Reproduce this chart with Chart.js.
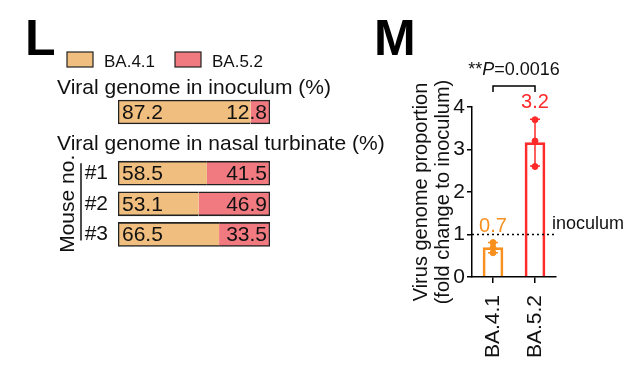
<!DOCTYPE html>
<html>
<head>
<meta charset="utf-8">
<script src="https://cdn.jsdelivr.net/npm/chart.js@4"></script>
<style>
  body { margin: 0; background: #fff; }
  #wrap { position: relative; width: 637px; height: 373px; overflow: hidden; }
  canvas { position: absolute; top: 0; }
  #chartL { left: 0; z-index: 1; }
  #chartM { left: 370px; z-index: 2; }
</style>
</head>
<body>
<div id="wrap">
  <canvas id="chartL" width="410" height="373"></canvas>
  <canvas id="chartM" width="267" height="373"></canvas>
</div>
<script>
// panel L - proportions (%)
const rows = ['Inoculum', '#1', '#2', '#3'];
const ba41Share = [87.2, 58.5, 53.1, 66.5];
const ba52Share = [12.8, 41.5, 46.9, 33.5];

// panel M - fold change to inoculum
const strains = ['BA.4.1', 'BA.5.2'];
const foldMean = [0.69, 3.16];
const foldSd = [0.12, 0.55];
const ba41Points = [0.81, 0.57, 0.69];
const ba52Points = [3.7, 3.2, 2.6];
const inoculumLevel = 1;
const pValue = '0.0016';

const FONT = '"Liberation Sans", Arial, sans-serif';
const INK = '#111';
const LIGHT_ORANGE = '#F0BE7E';
const PINK = '#F17A80';
const ORANGE = '#F7901E';
const RED = '#FF2A2A';

Chart.defaults.font.family = FONT;
Chart.defaults.color = INK;

// panel L: an empty row sits between inoculum and mice to hold the second title
const rowLabels = [rows[0], 'gap'].concat(rows.slice(1));
const withGap = arr => [arr[0], null].concat(arr.slice(1));

const panelL = {
  id: 'panelL',
  afterDraw(chart) {
    const ctx = chart.ctx;
    const y = chart.scales.y;
    const x = chart.scales.x;
    ctx.save();
    ctx.fillStyle = '#000';
    ctx.font = 'bold 50px ' + FONT;
    ctx.textBaseline = 'alphabetic';
    ctx.fillText('L', 25, 55);

    // legend
    ctx.font = '17px ' + FONT;
    let lx = 67;
    chart.data.datasets.forEach(ds => {
      ctx.fillStyle = ds.backgroundColor;
      ctx.fillRect(lx, 52, 26, 15);
      ctx.strokeStyle = '#222';
      ctx.lineWidth = 1.2;
      ctx.strokeRect(lx, 52, 26, 15);
      ctx.fillStyle = INK;
      ctx.fillText(ds.label, lx + 37, 67);
      lx += 108;
    });

    // titles
    ctx.font = '21px ' + FONT;
    ctx.fillText('Viral genome in inoculum (%)', 57, y.getPixelForValue(0) - 18);
    ctx.fillText('Viral genome in nasal turbinate (%)', 57, y.getPixelForValue(1) + 7);

    // values inside bars
    const left = x.getPixelForValue(0);
    const right = x.getPixelForValue(100);
    const a = chart.data.datasets[0].data;
    const b = chart.data.datasets[1].data;
    ctx.textBaseline = 'middle';
    a.forEach((v, i) => {
      if (v === null) return;
      const yy = y.getPixelForValue(i) + 1;
      ctx.textAlign = 'left';
      ctx.fillText(v.toFixed(1), left + 4, yy);
      ctx.textAlign = 'right';
      ctx.fillText(b[i].toFixed(1), right - 3, yy);
    });

    // Mouse no. bracket
    const y1 = y.getPixelForValue(2);
    const y3 = y.getPixelForValue(4);
    ctx.strokeStyle = INK;
    ctx.lineWidth = 1.5;
    ctx.beginPath();
    ctx.moveTo(left - 37, y1 - 10);
    ctx.lineTo(left - 37, y3 + 6);
    ctx.stroke();
    ctx.translate(left - 50, (y1 + y3) / 2);
    ctx.rotate(-Math.PI / 2);
    ctx.textAlign = 'center';
    ctx.fillText('Mouse no.', 0, 0);
    ctx.restore();
  }
};

new Chart(document.getElementById('chartL'), {
  type: 'bar',
  data: {
    labels: rowLabels,
    datasets: [
      {
        label: 'BA.4.1',
        data: withGap(ba41Share),
        backgroundColor: LIGHT_ORANGE,
        borderColor: '#222',
        borderWidth: { top: 1.6, bottom: 1.6, left: 1.6, right: 0 },
        borderSkipped: false,
        barThickness: 24
      },
      {
        label: 'BA.5.2',
        data: withGap(ba52Share),
        backgroundColor: PINK,
        borderColor: '#222',
        borderWidth: { top: 1.6, bottom: 1.6, left: 0, right: 1.6 },
        borderSkipped: false,
        barThickness: 24
      }
    ]
  },
  options: {
    indexAxis: 'y',
    responsive: false,
    animation: false,
    layout: { padding: { left: 78, right: 140, top: 96.7, bottom: 123.3 } },
    scales: {
      x: { stacked: true, min: 0, max: 100, display: false },
      y: {
        stacked: true,
        grid: { display: false, drawTicks: false },
        border: { display: false },
        ticks: {
          font: { size: 21 },
          color: INK,
          padding: 10,
          callback: (v, i) => (i >= 2 ? rowLabels[i] : '')
        },
        afterFit: s => { s.width = 40; }
      }
    },
    plugins: { legend: { display: false }, tooltip: { enabled: false } }
  },
  plugins: [panelL]
});

// panel M
const strainColors = [ORANGE, RED];
const strainPoints = [ba41Points, ba52Points];

const panelM = {
  id: 'panelM',
  afterDatasetsDraw(chart) {
    const ctx = chart.ctx;
    const x = chart.scales.x;
    const y = chart.scales.y;
    const area = chart.chartArea;
    ctx.save();

    // inoculum reference line
    const yRef = y.getPixelForValue(inoculumLevel);
    ctx.strokeStyle = '#000';
    ctx.lineWidth = 1.5;
    ctx.setLineDash([2, 3]);
    ctx.beginPath();
    ctx.moveTo(area.left, yRef);
    ctx.lineTo(area.right, yRef);
    ctx.stroke();
    ctx.setLineDash([]);
    ctx.fillStyle = INK;
    ctx.font = '18px ' + FONT;
    ctx.textBaseline = 'middle';
    ctx.fillText('inoculum', area.right - 4, yRef - 10);

    // error bars (mean +/- SD) and mean labels
    strains.forEach((s, i) => {
      const cx = x.getPixelForValue(i);
      const top = y.getPixelForValue(foldMean[i] + foldSd[i]);
      const bot = y.getPixelForValue(foldMean[i] - foldSd[i]);
      ctx.strokeStyle = strainColors[i];
      ctx.lineWidth = 1.5;
      ctx.beginPath();
      ctx.moveTo(cx, top); ctx.lineTo(cx, bot);
      ctx.moveTo(cx - 5, top); ctx.lineTo(cx + 5, top);
      ctx.moveTo(cx - 5, bot); ctx.lineTo(cx + 5, bot);
      ctx.stroke();
      const peak = Math.min(top, y.getPixelForValue(Math.max(...strainPoints[i])));
      ctx.fillStyle = strainColors[i];
      ctx.font = '20px ' + FONT;
      ctx.textAlign = 'center';
      ctx.textBaseline = 'alphabetic';
      ctx.fillText((Math.round(foldMean[i] * 10) / 10).toFixed(1), cx, peak - 11);
    });

    // significance bracket
    const xa = x.getPixelForValue(0);
    const xb = x.getPixelForValue(1);
    const by = area.top - 21;
    ctx.strokeStyle = '#000';
    ctx.lineWidth = 1.5;
    ctx.beginPath();
    ctx.moveTo(xa, by + 6); ctx.lineTo(xa, by); ctx.lineTo(xb, by); ctx.lineTo(xb, by + 6);
    ctx.stroke();

    const parts = [['**', ''], ['P', 'italic '], ['=' + pValue, '']];
    let total = 0;
    parts.forEach(p => { ctx.font = p[1] + '18px ' + FONT; total += ctx.measureText(p[0]).width; });
    let tx = (xa + xb) / 2 - total / 2;
    ctx.fillStyle = INK;
    ctx.textAlign = 'left';
    parts.forEach(p => {
      ctx.font = p[1] + '18px ' + FONT;
      ctx.fillText(p[0], tx, by - 11);
      tx += ctx.measureText(p[0]).width;
    });

    ctx.fillStyle = '#000';
    ctx.font = 'bold 50px ' + FONT;
    ctx.fillText('M', 4, 55);
    ctx.restore();
  }
};

const pointSet = (vals, i) => ({
  type: 'line',
  showLine: false,
  data: vals.map(v => ({ x: strains[i], y: v })),
  pointRadius: 3,
  pointBackgroundColor: strainColors[i],
  pointBorderColor: strainColors[i],
  order: 0
});

new Chart(document.getElementById('chartM'), {
  type: 'bar',
  data: {
    labels: strains,
    datasets: [
      {
        data: foldMean,
        backgroundColor: 'rgba(255,255,255,0)',
        borderColor: strainColors,
        borderWidth: 2,
        barThickness: 20,
        order: 1
      },
      pointSet(ba41Points, 0),
      pointSet(ba52Points, 1)
    ]
  },
  options: {
    responsive: false,
    animation: false,
    layout: { padding: { left: 0, right: 81, top: 107, bottom: 0 } },
    scales: {
      x: {
        offset: true,
        grid: { display: true, offset: false, drawOnChartArea: false, tickLength: 6, color: '#000', lineWidth: 1.5 },
        border: { display: true, color: '#000', width: 1.5 },
        ticks: { font: { size: 21 }, color: INK, minRotation: 90, maxRotation: 90, padding: 12 },
        afterFit: s => { s.height = 96; }
      },
      y: {
        min: 0,
        max: 4,
        grid: { drawOnChartArea: false, tickLength: 5, color: '#000', lineWidth: 1.5 },
        border: { display: true, color: '#000', width: 1.5 },
        ticks: { stepSize: 1, font: { size: 21 }, color: INK, padding: 2 },
        title: {
          display: true,
          text: ['Virus genome proportion', '(fold change to inoculum)'],
          font: { size: 20, lineHeight: 1.1 },
          color: INK,
          padding: { top: 40, bottom: 0 }
        },
        afterFit: s => { s.width = 102; }
      }
    },
    plugins: { legend: { display: false }, tooltip: { enabled: false } }
  },
  plugins: [panelM]
});
</script>
</body>
</html>
